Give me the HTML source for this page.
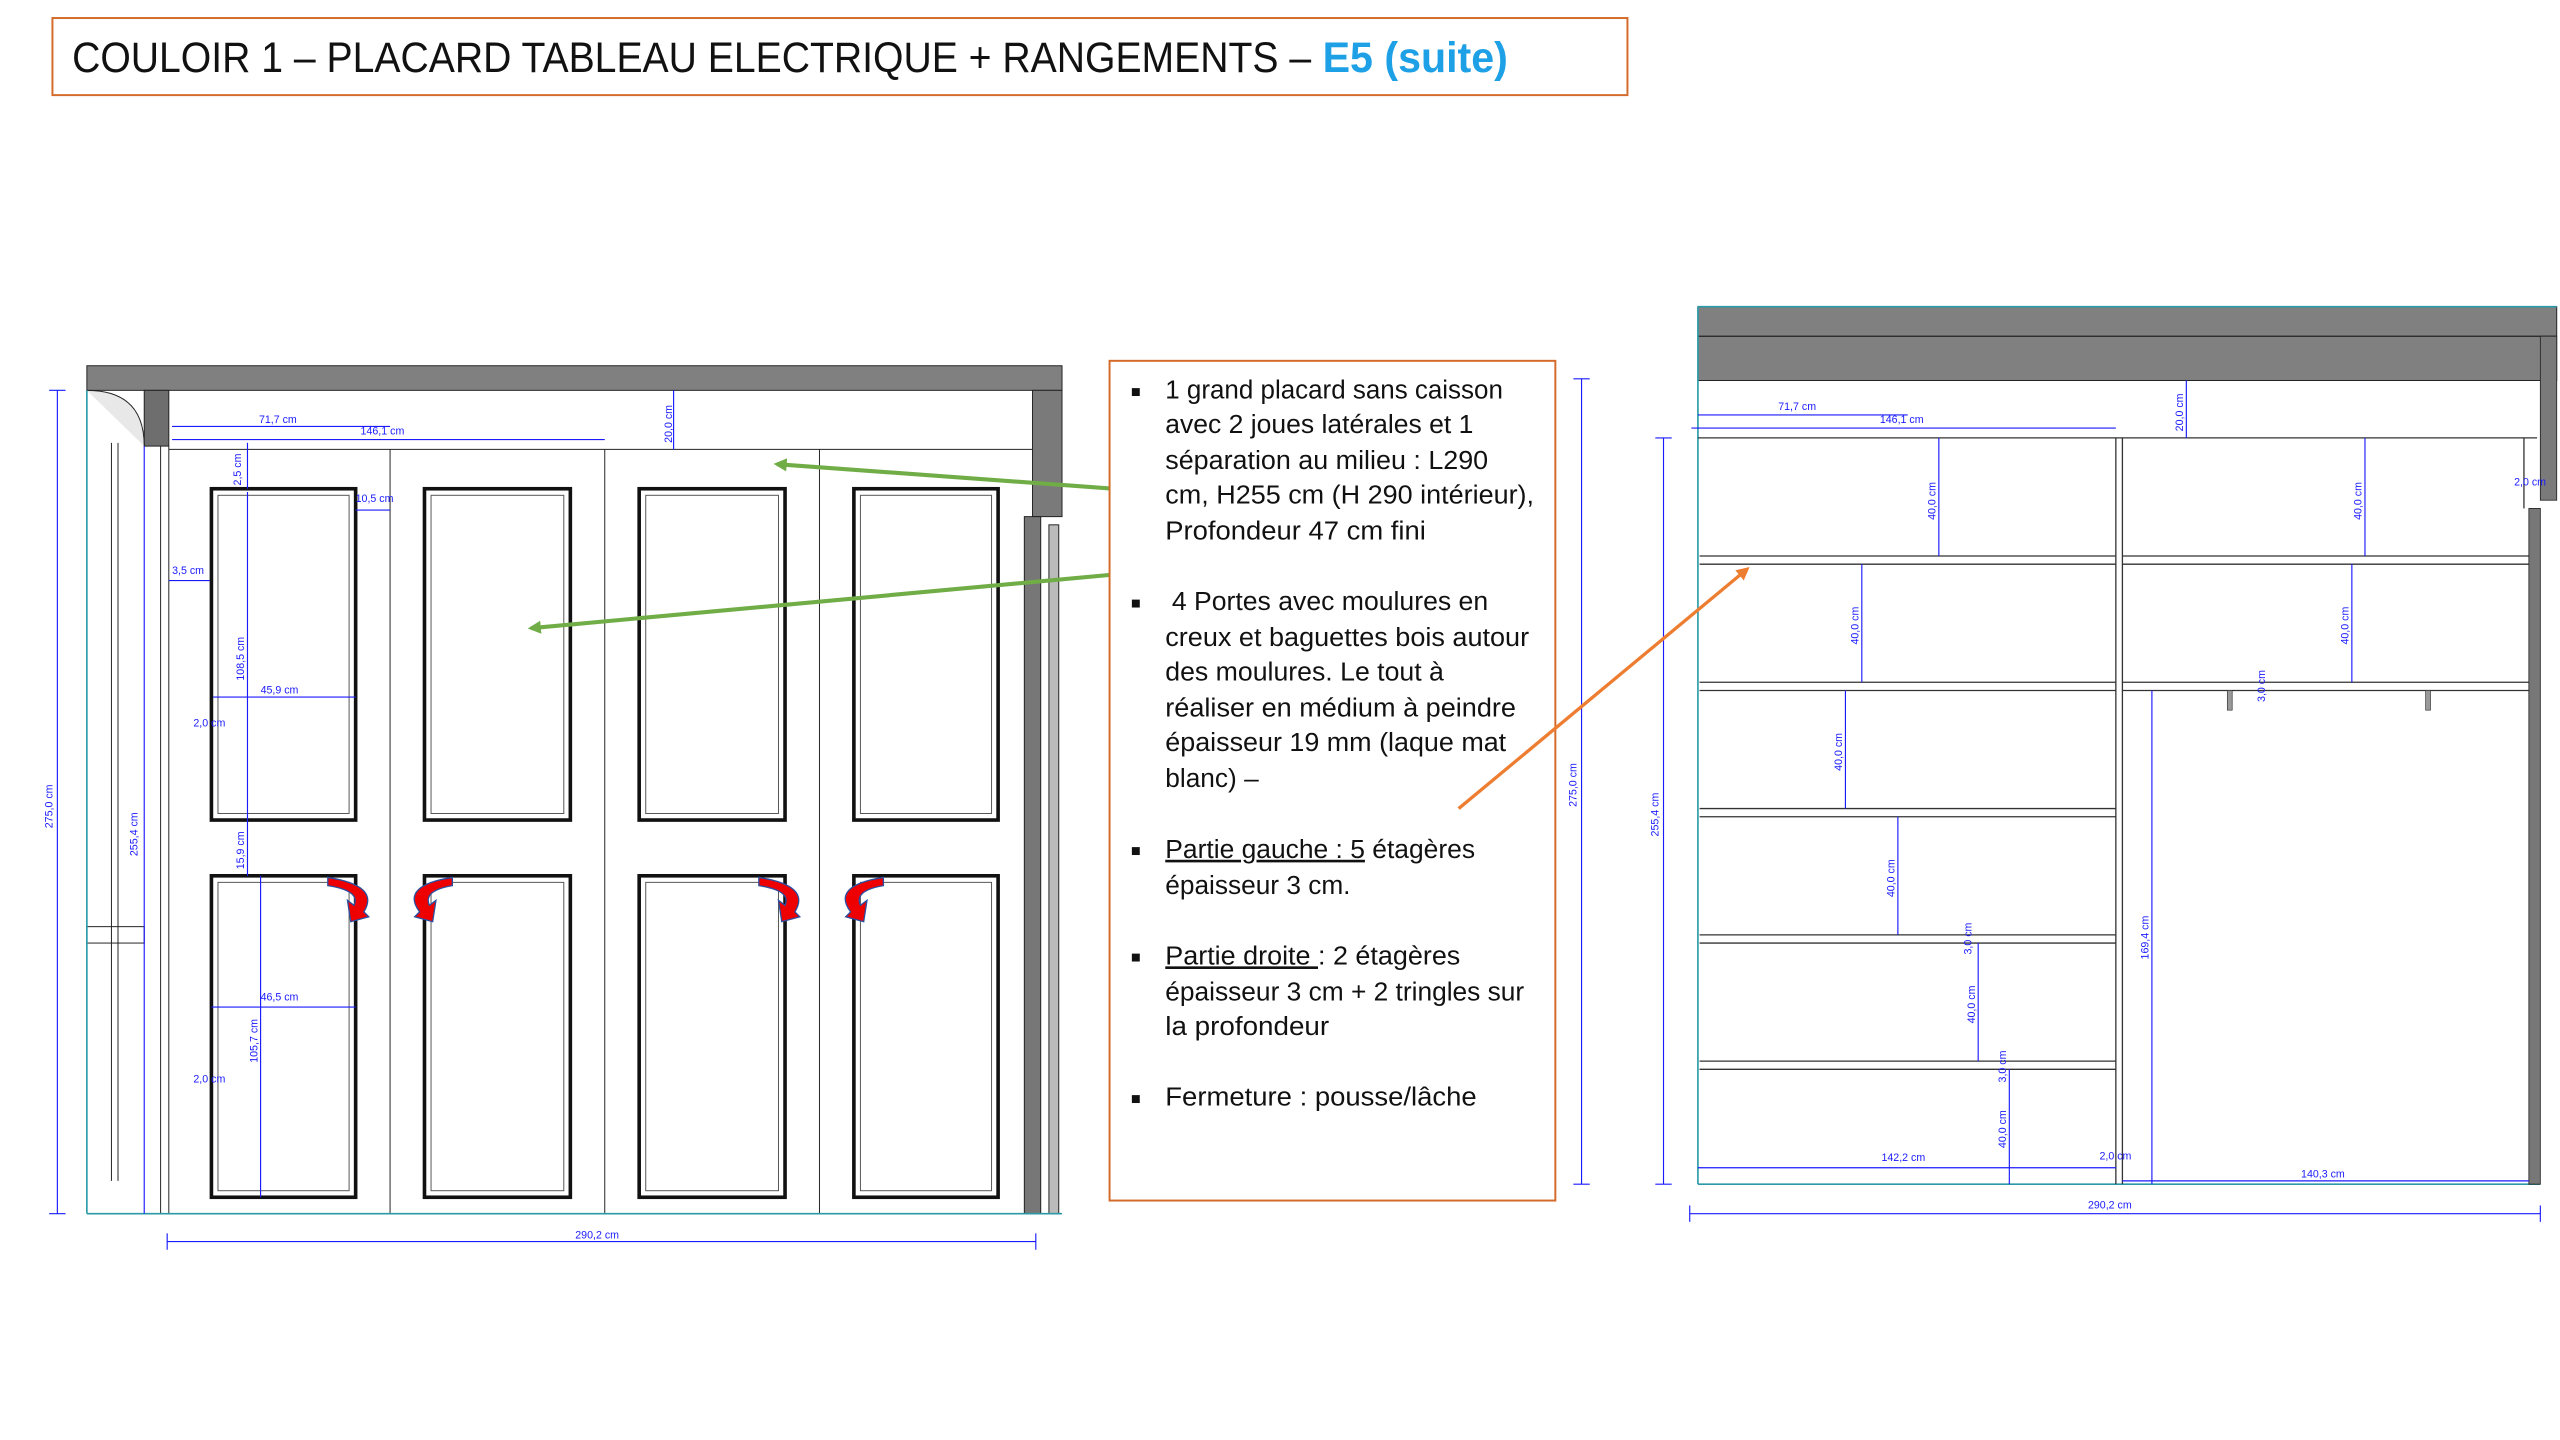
<!DOCTYPE html>
<html><head><meta charset="utf-8"><style>
html,body{margin:0;padding:0;background:#fff;width:2560px;height:1440px;overflow:hidden}
svg{display:block}
.d{font-family:"Liberation Sans",sans-serif;font-size:6.5px;fill:#1a1aff}
.t{font-family:"Liberation Sans",sans-serif;font-size:16px;fill:#111}
</style></head><body>
<svg width="2560" height="1440" viewBox="0 0 1562 878" preserveAspectRatio="none" xmlns="http://www.w3.org/2000/svg">
<defs>
<marker id="ag" markerWidth="8" markerHeight="8" refX="6" refY="4" orient="auto" markerUnits="userSpaceOnUse"><path d="M0,0 L8,4 L0,8 z" fill="#70ad47"/></marker>
<marker id="ao" markerWidth="8" markerHeight="8" refX="6" refY="4" orient="auto" markerUnits="userSpaceOnUse"><path d="M0,0 L8,4 L0,8 z" fill="#ed7d31"/></marker>
</defs>
<!-- Title -->
<rect x="32" y="11" width="961" height="47" fill="#fff" stroke="#d46a2a" stroke-width="1.2"/>
<text x="44" y="44" font-family="Liberation Sans,sans-serif" font-size="26" fill="#111" textLength="756" lengthAdjust="spacingAndGlyphs">COULOIR 1 – PLACARD TABLEAU ELECTRIQUE + RANGEMENTS – </text>
<text x="807" y="44" font-family="Liberation Sans,sans-serif" font-size="26" font-weight="bold" fill="#1ea0e6" textLength="113" lengthAdjust="spacingAndGlyphs">E5 (suite)</text>

<!-- LEFT DRAWING -->
<g stroke="#222" stroke-width="0.6" fill="none">
<rect x="53" y="223" width="595" height="15" fill="#808080"/>
<rect x="88" y="238" width="15" height="34" fill="#6e6e6e"/>
<path d="M53,238 Q88,238 88,272" fill="#e8e8e8"/>
<rect x="630" y="238" width="18" height="77" fill="#7a7a7a"/>
<line x1="103" y1="274" x2="630" y2="274"/>
<line x1="103" y1="272" x2="103" y2="740"/>
<line x1="98" y1="272" x2="98" y2="740"/>
<line x1="68" y1="270" x2="68" y2="720"/>
<line x1="72" y1="270" x2="72" y2="720"/>
<rect x="53" y="565" width="35" height="10" />
<line x1="238" y1="274" x2="238" y2="740"/>
<line x1="369" y1="274" x2="369" y2="740"/>
<line x1="500" y1="274" x2="500" y2="740"/>
<rect x="625" y="315" width="10" height="425" fill="#777"/>
<rect x="640" y="320" width="6" height="420" fill="#bbb"/>
</g>
<g fill="#fff" stroke="#111" stroke-width="2.2">
<rect x="129" y="298" width="88" height="202"/><rect x="259" y="298" width="89" height="202"/>
<rect x="390" y="298" width="89" height="202"/><rect x="521" y="298" width="88" height="202"/>
<rect x="129" y="534" width="88" height="196"/><rect x="259" y="534" width="89" height="196"/>
<rect x="390" y="534" width="89" height="196"/><rect x="521" y="534" width="88" height="196"/>
</g>
<g fill="none" stroke="#555" stroke-width="0.6">
<rect x="133" y="302" width="80" height="194"/><rect x="263" y="302" width="81" height="194"/>
<rect x="394" y="302" width="81" height="194"/><rect x="525" y="302" width="80" height="194"/>
<rect x="133" y="538" width="80" height="188"/><rect x="263" y="538" width="81" height="188"/>
<rect x="394" y="538" width="81" height="188"/><rect x="525" y="538" width="80" height="188"/>
</g>
<line x1="53" y1="740" x2="648" y2="740" stroke="#2a9aa8" stroke-width="1"/>
<line x1="53" y1="238" x2="53" y2="740" stroke="#2a9aa8" stroke-width="1"/>
<!-- dims left -->
<g stroke="#1a1aff" stroke-width="0.7">
<line x1="35" y1="238" x2="35" y2="740"/><line x1="30" y1="238" x2="40" y2="238"/><line x1="30" y1="740" x2="40" y2="740"/>
<line x1="88" y1="272" x2="88" y2="740"/>
<line x1="102" y1="757" x2="632" y2="757"/><line x1="102" y1="752" x2="102" y2="762"/><line x1="632" y1="752" x2="632" y2="762"/>
<line x1="105" y1="260" x2="238" y2="260"/><line x1="105" y1="268" x2="369" y2="268"/>
<line x1="411" y1="238" x2="411" y2="274"/>
<line x1="151" y1="270" x2="151" y2="298"/><line x1="151" y1="300" x2="151" y2="500"/>
<line x1="151" y1="500" x2="151" y2="534"/><line x1="159" y1="534" x2="159" y2="730"/>
<line x1="130" y1="425" x2="217" y2="425"/><line x1="129" y1="614" x2="217" y2="614"/>
<line x1="217" y1="311" x2="238" y2="311"/><line x1="103" y1="354" x2="128" y2="354"/>
</g>
<g class="d">
<text transform="translate(32,505) rotate(-90)">275,0 cm</text>
<text transform="translate(84,522) rotate(-90)">255,4 cm</text>
<text x="158" y="258">71,7 cm</text><text x="220" y="265">146,1 cm</text>
<text transform="translate(410,270) rotate(-90)">20,0 cm</text>
<text transform="translate(147,296) rotate(-90)">2,5 cm</text>
<text transform="translate(149,415) rotate(-90)">108,5 cm</text>
<text transform="translate(149,530) rotate(-90)">15,9 cm</text>
<text transform="translate(157,648) rotate(-90)">105,7 cm</text>
<text x="159" y="423">45,9 cm</text><text x="159" y="610">46,5 cm</text>
<text x="217" y="306">10,5 cm</text><text x="105" y="350">3,5 cm</text>
<text x="118" y="443">2,0 cm</text><text x="118" y="660">2,0 cm</text>
<text x="351" y="755">290,2 cm</text>
</g>
<!-- red arrows -->
<g fill="#e00" stroke="#2b4fa0" stroke-width="0.8">
<path d="M200,535 Q232,540 222,556 L225,559 L214,562 L212,549 L216,552 Q220,543 200,540 z"/>
<path d="M276,535 Q244,540 256,556 L253,559 L264,562 L266,549 L262,552 Q258,543 276,540 z"/>
<path d="M463,535 Q495,540 485,556 L488,559 L477,562 L475,549 L479,552 Q483,543 463,540 z"/>
<path d="M539,535 Q507,540 519,556 L516,559 L527,562 L529,549 L525,552 Q521,543 539,540 z"/>
</g>
<!-- green arrows -->
<line x1="707" y1="300" x2="474" y2="283" stroke="#70ad47" stroke-width="2.5" marker-end="url(#ag)"/>
<line x1="694" y1="349" x2="324" y2="383" stroke="#70ad47" stroke-width="2.5" marker-end="url(#ag)"/>

<!-- TEXT BOX -->
<rect x="677" y="220" width="272" height="512" fill="#fff" stroke="#d46a2a" stroke-width="1.2"/>
<g class="t">
<text x="690" y="242" font-size="10">■</text>
<text x="711" y="243" textLength="206" lengthAdjust="spacingAndGlyphs">1 grand placard sans caisson</text>
<text x="711" y="264" textLength="188" lengthAdjust="spacingAndGlyphs">avec 2 joues latérales et 1</text>
<text x="711" y="286" textLength="197" lengthAdjust="spacingAndGlyphs">séparation au milieu : L290</text>
<text x="711" y="307" textLength="225" lengthAdjust="spacingAndGlyphs">cm, H255 cm (H 290 intérieur),</text>
<text x="711" y="329" textLength="159" lengthAdjust="spacingAndGlyphs">Profondeur 47 cm fini</text>
<text x="690" y="371" font-size="10">■</text>
<text x="715" y="372" textLength="193" lengthAdjust="spacingAndGlyphs">4 Portes avec moulures en</text>
<text x="711" y="394" textLength="222" lengthAdjust="spacingAndGlyphs">creux et baguettes bois autour</text>
<text x="711" y="415" textLength="170" lengthAdjust="spacingAndGlyphs">des moulures. Le tout à</text>
<text x="711" y="437" textLength="214" lengthAdjust="spacingAndGlyphs">réaliser en médium à peindre</text>
<text x="711" y="458" textLength="208" lengthAdjust="spacingAndGlyphs">épaisseur 19 mm (laque mat</text>
<text x="711" y="480" textLength="57" lengthAdjust="spacingAndGlyphs">blanc) –</text>
<text x="690" y="522" font-size="10">■</text>
<text x="711" y="523" textLength="189" lengthAdjust="spacingAndGlyphs"><tspan text-decoration="underline">Partie gauche : 5</tspan> étagères</text>
<text x="711" y="545" textLength="113" lengthAdjust="spacingAndGlyphs">épaisseur 3 cm.</text>
<text x="690" y="587" font-size="10">■</text>
<text x="711" y="588" textLength="180" lengthAdjust="spacingAndGlyphs"><tspan text-decoration="underline">Partie droite </tspan>: 2 étagères</text>
<text x="711" y="610" textLength="219" lengthAdjust="spacingAndGlyphs">épaisseur 3 cm + 2 tringles sur</text>
<text x="711" y="631" textLength="100" lengthAdjust="spacingAndGlyphs">la profondeur</text>
<text x="690" y="673" font-size="10">■</text>
<text x="711" y="674" textLength="190" lengthAdjust="spacingAndGlyphs">Fermeture : pousse/lâche</text>
</g>
<g stroke="#1a1aff" stroke-width="0.7">
<line x1="965" y1="231" x2="965" y2="722"/><line x1="960" y1="231" x2="970" y2="231"/><line x1="960" y1="722" x2="970" y2="722"/>
</g>
<text class="d" transform="translate(962,492) rotate(-90)">275,0 cm</text>

<!-- RIGHT DRAWING -->
<rect x="1036" y="187" width="524" height="45" fill="#808080" stroke="#222" stroke-width="0.6"/>
<line x1="1036" y1="205" x2="1560" y2="205" stroke="#222" stroke-width="0.8"/>
<rect x="1550" y="205" width="10" height="100" fill="#7a7a7a" stroke="#222" stroke-width="0.5"/>
<line x1="1036" y1="187" x2="1560" y2="187" stroke="#2a9aa8" stroke-width="1"/>
<line x1="1036" y1="187" x2="1036" y2="722" stroke="#2a9aa8" stroke-width="1"/>
<line x1="1036" y1="722" x2="1550" y2="722" stroke="#2a9aa8" stroke-width="1"/>
<g stroke="#333" stroke-width="0.8" fill="none">
<line x1="1036" y1="267" x2="1548" y2="267"/>
<line x1="1291" y1="267" x2="1291" y2="722"/><line x1="1295" y1="267" x2="1295" y2="722"/>
<line x1="1037" y1="339" x2="1291" y2="339"/><line x1="1037" y1="344" x2="1291" y2="344"/>
<line x1="1037" y1="416" x2="1291" y2="416"/><line x1="1037" y1="421" x2="1291" y2="421"/>
<line x1="1037" y1="493" x2="1291" y2="493"/><line x1="1037" y1="498" x2="1291" y2="498"/>
<line x1="1037" y1="570" x2="1291" y2="570"/><line x1="1037" y1="575" x2="1291" y2="575"/>
<line x1="1037" y1="647" x2="1291" y2="647"/><line x1="1037" y1="652" x2="1291" y2="652"/>
<line x1="1295" y1="339" x2="1543" y2="339"/><line x1="1295" y1="344" x2="1543" y2="344"/>
<line x1="1295" y1="416" x2="1543" y2="416"/><line x1="1295" y1="421" x2="1543" y2="421"/>
<line x1="1540" y1="267" x2="1540" y2="310"/>
</g>
<rect x="1359" y="421" width="3" height="12" fill="#999" stroke="#333" stroke-width="0.4"/>
<rect x="1480" y="421" width="3" height="12" fill="#999" stroke="#333" stroke-width="0.4"/>
<rect x="1543" y="310" width="7" height="412" fill="#777" stroke="#222" stroke-width="0.5"/>
<g stroke="#1a1aff" stroke-width="0.7">
<line x1="1015" y1="267" x2="1015" y2="722"/><line x1="1010" y1="267" x2="1020" y2="267"/><line x1="1010" y1="722" x2="1020" y2="722"/>
<line x1="1031" y1="740" x2="1550" y2="740"/><line x1="1031" y1="735" x2="1031" y2="745"/><line x1="1550" y1="735" x2="1550" y2="745"/>
<line x1="1036" y1="253" x2="1164" y2="253"/><line x1="1032" y1="261" x2="1291" y2="261"/>
<line x1="1334" y1="232" x2="1334" y2="267"/>
<line x1="1183" y1="267" x2="1183" y2="339"/><line x1="1443" y1="267" x2="1443" y2="339"/>
<line x1="1136" y1="344" x2="1136" y2="416"/><line x1="1435" y1="344" x2="1435" y2="416"/>
<line x1="1126" y1="421" x2="1126" y2="493"/><line x1="1158" y1="498" x2="1158" y2="570"/>
<line x1="1207" y1="575" x2="1207" y2="647"/><line x1="1226" y1="652" x2="1226" y2="722"/>
<line x1="1313" y1="421" x2="1313" y2="722"/>
<line x1="1036" y1="712" x2="1291" y2="712"/><line x1="1295" y1="720" x2="1543" y2="720"/>
</g>
<g class="d" font-size="6">
<text x="1085" y="250">71,7 cm</text><text x="1147" y="258">146,1 cm</text>
<text transform="translate(1332,263) rotate(-90)">20,0 cm</text>
<text transform="translate(1181,317) rotate(-90)">40,0 cm</text>
<text transform="translate(1441,317) rotate(-90)">40,0 cm</text>
<text transform="translate(1134,393) rotate(-90)">40,0 cm</text>
<text transform="translate(1433,393) rotate(-90)">40,0 cm</text>
<text transform="translate(1124,470) rotate(-90)">40,0 cm</text>
<text transform="translate(1156,547) rotate(-90)">40,0 cm</text>
<text transform="translate(1205,624) rotate(-90)">40,0 cm</text>
<text transform="translate(1224,700) rotate(-90)">40,0 cm</text>
<text transform="translate(1382,428) rotate(-90)">3,0 cm</text>
<text transform="translate(1203,582) rotate(-90)">3,0 cm</text>
<text transform="translate(1224,660) rotate(-90)">3,0 cm</text>
<text transform="translate(1311,585) rotate(-90)">169,4 cm</text>
<text transform="translate(1012,510) rotate(-90)">255,4 cm</text>
<text x="1148" y="708">142,2 cm</text><text x="1404" y="718">140,3 cm</text>
<text x="1281" y="707">2,0 cm</text><text x="1534" y="296">2,0 cm</text>
<text x="1274" y="737">290,2 cm</text>
</g>
<line x1="890" y1="493" x2="1066" y2="347" stroke="#ed7d31" stroke-width="2" marker-end="url(#ao)"/>
</svg>
</body></html>
